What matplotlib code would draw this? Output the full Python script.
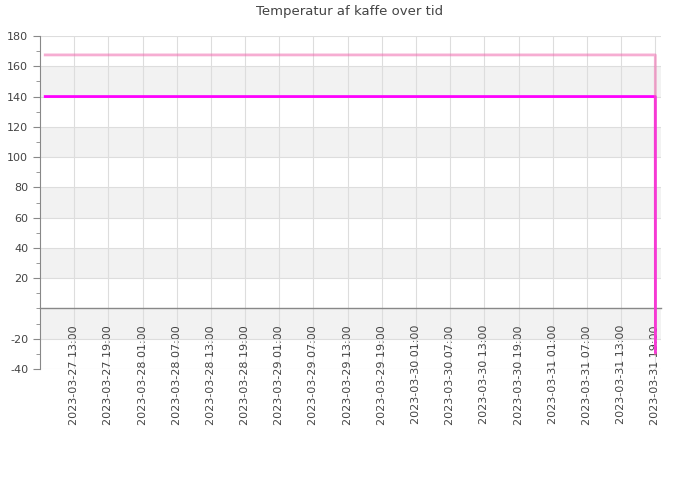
import matplotlib
matplotlib.use("Agg")
import matplotlib.pyplot as plt
import pandas as pd
import numpy as np

plt.rcParams["axes.unicode_minus"] = False

title = "Temperatur af kaffe over tid"
times = ["2023-03-27 07:55", "2023-03-29 13:00", "2023-03-31 19:00", "2023-03-31 19:01"]
series_pink = [167.5, 167.5, 167.5, -30]
series_magenta = [140, 140, 140, -29]
tick_start = "2023-03-27 13:00"
tick_end = "2023-03-31 19:00"
x_min = "2023-03-27 07:00"
x_max = "2023-03-31 20:00"
y_ticks = [-40, -20, 20, 40, 60, 80, 100, 120, 140, 160, 180]

t = pd.to_datetime(times)
ticks = pd.date_range(tick_start, tick_end, freq="6h")

fig = plt.figure(figsize=(7, 5), dpi=100)
ax = fig.add_axes([40/700, 1-369/500, 621/700, 333/500])

for s in ["top", "right"]:
    ax.spines[s].set_visible(False)
ax.spines["left"].set_color("#888888")
ax.spines["bottom"].set_position(("data", 0))
ax.spines["bottom"].set_color("#888888")
ax.spines["bottom"].set_linewidth(1)

for lo in range(-20, 180, 40):
    ax.axhspan(lo, lo + 20, color="#f2f2f2", zorder=0, lw=0)

ax.plot(t, series_magenta, color="#ff00ff", lw=2, zorder=3)
ax.plot(t, series_pink, color="#f06aae", lw=2, zorder=4, alpha=0.55)

ax.set_xlim(pd.Timestamp(x_min), pd.Timestamp(x_max))
ax.set_ylim(-40, 180)
ax.set_yticks(y_ticks)
ax.set_yticks(np.arange(-40, 181, 10), minor=True)
ax.set_xticks(ticks)
ax.set_xticklabels([d.strftime("%Y-%m-%d %H:%M") for d in ticks])
ax.tick_params(axis="x", length=0, pad=12, labelrotation=90, labelsize=8, labelcolor="#444444")
ax.tick_params(axis="y", which="major", length=5, color="#888888", labelsize=8, labelcolor="#444444")
ax.tick_params(axis="y", which="minor", length=3, color="#888888")

ax.grid(True, which="major", color="#dddddd", lw=0.8, zorder=1)
ax.set_axisbelow(True)

fig.text(0.5, 1 - 11/500, title, ha="center", va="center", fontsize=9.5, color="#444444")
fig.savefig("out.png", dpi=100, facecolor="white")
